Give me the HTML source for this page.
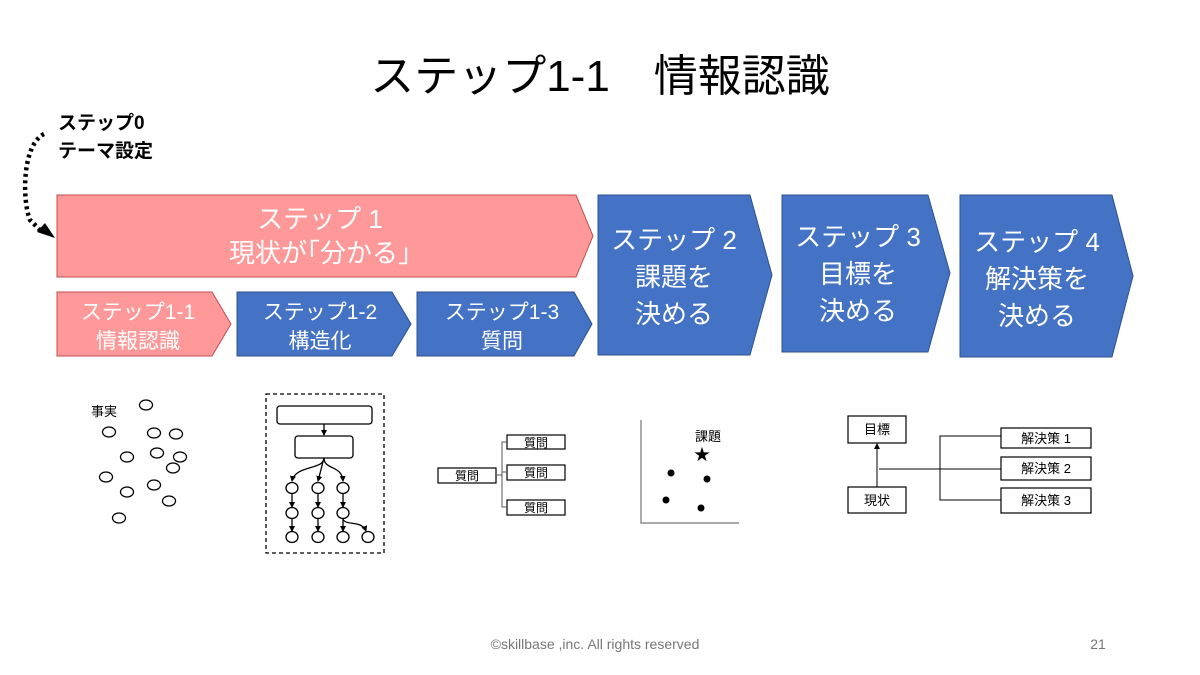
<!DOCTYPE html>
<html><head><meta charset="utf-8"><style>
html,body{margin:0;padding:0;background:#fff}
svg{display:block;font-family:"Liberation Sans","Noto Sans CJK JP",sans-serif}
</style></head><body>
<svg width="1200" height="675" viewBox="0 0 1200 675" xmlns="http://www.w3.org/2000/svg">
<defs>
<marker id="s" markerWidth="6" markerHeight="6" refX="5" refY="3" orient="auto" markerUnits="userSpaceOnUse"><path d="M0,0 L6,3 L0,6z" fill="#000"/></marker>
</defs>
<text x="600" y="91" font-size="44" text-anchor="middle" fill="#000">ステップ1-1　情報認識</text>
<text x="58" y="129" font-size="19" font-weight="bold">ステップ0</text>
<text x="58" y="157" font-size="19" font-weight="bold">テーマ設定</text>
<path d="M44,134 C22,145 22,200 30,220 L40,230" fill="none" stroke="#000" stroke-width="4.5" stroke-dasharray="3,3.5"/>
<path d="M37,232 L55,238 L45,223z" fill="#000"/>
<g stroke="#c05050" stroke-width="1">
<polygon points="57,195 576,195 593,236 576,277 57,277" fill="#ff9999"/>
<polygon points="57,292 212,292 231,324 212,356 57,356" fill="#ff9999"/>
</g>
<g stroke="#2f528f" stroke-width="1" fill="#4472c4">
<polygon points="237,292 392,292 411,324 392,356 237,356"/>
<polygon points="417,292 574,292 592,324 574,356 417,356"/>
<polygon points="598,195 750,195 772,275 750,355 598,355"/>
<polygon points="782,195 928,195 950,273 928,352 782,352"/>
<polygon points="960,195 1112,195 1133,276 1112,357 960,357"/>
</g>
<g fill="#fff" text-anchor="middle" font-size="26">
<text x="320" y="228">ステップ 1</text>
<text x="320" y="262">現状が｢分かる｣</text>
<text x="674" y="249">ステップ 2</text>
<text x="674" y="286">課題を</text>
<text x="674" y="323">決める</text>
<text x="858" y="246">ステップ 3</text>
<text x="858" y="283">目標を</text>
<text x="858" y="320">決める</text>
<text x="1037" y="251">ステップ 4</text>
<text x="1037" y="288">解決策を</text>
<text x="1037" y="325">決める</text>
</g>
<g fill="#fff" text-anchor="middle" font-size="21">
<text x="138" y="319">ステップ1-1</text>
<text x="138" y="348">情報認識</text>
<text x="320" y="319">ステップ1-2</text>
<text x="320" y="348">構造化</text>
<text x="502" y="319">ステップ1-3</text>
<text x="502" y="348">質問</text>
</g>
<text x="91" y="416" font-size="13">事実</text>
<g fill="none" stroke="#000" stroke-width="1.3">
<ellipse cx="146" cy="405" rx="6.5" ry="5"/><ellipse cx="109" cy="432" rx="6.5" ry="5"/><ellipse cx="154" cy="433" rx="6.5" ry="5"/><ellipse cx="176" cy="434" rx="6.5" ry="5"/><ellipse cx="127" cy="457" rx="6.5" ry="5"/><ellipse cx="157" cy="453" rx="6.5" ry="5"/><ellipse cx="180" cy="457" rx="6.5" ry="5"/><ellipse cx="173" cy="468" rx="6.5" ry="5"/><ellipse cx="106" cy="477" rx="6.5" ry="5"/><ellipse cx="154" cy="485" rx="6.5" ry="5"/><ellipse cx="127" cy="492" rx="6.5" ry="5"/><ellipse cx="169" cy="501" rx="6.5" ry="5"/><ellipse cx="119" cy="518" rx="6.5" ry="5"/>
<rect x="266" y="394" width="118" height="159" stroke-dasharray="4,3"/>
<rect x="277" y="406" width="95" height="18" rx="3"/>
<rect x="295" y="436" width="58" height="22" rx="3"/>
<line x1="324" y1="424" x2="324" y2="435" marker-end="url(#s)"/>
<path d="M324,458 C324,470 295,465 292,481" marker-end="url(#s)"/>
<line x1="324" y1="458" x2="318" y2="481" marker-end="url(#s)"/>
<path d="M324,458 C324,470 342,465 343,481" marker-end="url(#s)"/>
<ellipse cx="292" cy="488" rx="6" ry="5.5"/><ellipse cx="318" cy="488" rx="6" ry="5.5"/><ellipse cx="343" cy="488" rx="6" ry="5.5"/>
<ellipse cx="292" cy="513" rx="6" ry="5.5"/><ellipse cx="318" cy="513" rx="6" ry="5.5"/><ellipse cx="343" cy="513" rx="6" ry="5.5"/>
<ellipse cx="292" cy="537" rx="6" ry="5.5"/><ellipse cx="318" cy="537" rx="6" ry="5.5"/><ellipse cx="343" cy="537" rx="6" ry="5.5"/><ellipse cx="368" cy="537" rx="6" ry="5.5"/>
<line x1="292" y1="494" x2="292" y2="507" marker-end="url(#s)"/><line x1="318" y1="494" x2="318" y2="507" marker-end="url(#s)"/><line x1="343" y1="494" x2="343" y2="507" marker-end="url(#s)"/>
<line x1="292" y1="519" x2="292" y2="531" marker-end="url(#s)"/><line x1="318" y1="519" x2="318" y2="531" marker-end="url(#s)"/><line x1="343" y1="519" x2="343" y2="531" marker-end="url(#s)"/>
<path d="M343,519 C345,526 362,520 366,531" marker-end="url(#s)"/>
</g>
<g fill="none" stroke="#000" stroke-width="1.2">
<rect x="438" y="468" width="58" height="15"/>
<rect x="507" y="435" width="58" height="14"/><rect x="507" y="465" width="58" height="15"/><rect x="507" y="500" width="58" height="15"/>
<path d="M496,475 H502 M507,442 H502 V507 H507 M502,472 H507" stroke="#555" stroke-width="1"/>
<path d="M641,420 V523 H739" stroke="#777"/>
<rect x="848" y="416" width="58" height="27"/><rect x="848" y="487" width="58" height="26"/>
<rect x="1001" y="428" width="90" height="20"/><rect x="1001" y="457" width="90" height="23"/><rect x="1001" y="488" width="90" height="25"/>
<line x1="877" y1="487" x2="877" y2="444" marker-end="url(#s)" stroke-width="1"/>
<path d="M879,469 H1001 M1001,436 H940 V500 H1001" stroke-width="1"/>
</g>
<g font-size="12" text-anchor="middle">
<text x="467" y="480">質問</text><text x="536" y="447">質問</text><text x="536" y="477">質問</text><text x="536" y="512">質問</text>
<text x="708" y="441" font-size="13">課題</text>
<text x="702" y="460" font-size="16">★</text>
<text x="877" y="434" font-size="13">目標</text><text x="877" y="505" font-size="13">現状</text>
<text x="1046" y="443" font-size="13">解決策 1</text><text x="1046" y="473" font-size="13">解決策 2</text><text x="1046" y="505" font-size="13">解決策 3</text>
</g>
<g fill="#000"><circle cx="671" cy="473" r="3.5"/><circle cx="707" cy="479" r="3.5"/><circle cx="666" cy="500" r="3.5"/><circle cx="701" cy="508" r="3.5"/></g>
<text x="595" y="649" font-size="14" text-anchor="middle" fill="#777">©skillbase ,inc. All rights reserved</text>
<text x="1098" y="649" font-size="14" text-anchor="middle" fill="#777">21</text>
</svg>
</body></html>
